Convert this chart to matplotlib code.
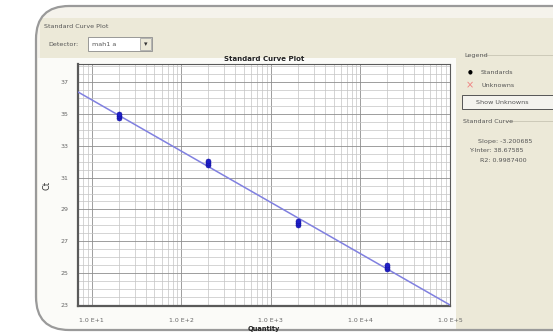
import numpy as np
import matplotlib.pyplot as plt
from matplotlib.patches import FancyBboxPatch, Rectangle
from matplotlib.ticker import FixedLocator, LogLocator, NullFormatter

# standards (quantity) and replicate Ct values
quantity = [20, 200, 2000, 20000]
ct_reps = [
    [34.74, 34.86, 34.98],
    [31.80, 31.92, 32.04],
    [28.03, 28.15, 28.27],
    [25.27, 25.39, 25.51],
]
y_ticks = [23, 25, 27, 29, 31, 33, 35, 37]
x_ticks = [1e1, 1e2, 1e3, 1e4, 1e5]
x_tick_labels = ['1.0 E+1', '1.0 E+2', '1.0 E+3', '1.0 E+4', '1.0 E+5']
curve_text = ['Slope: -3.200685', 'Y-Inter: 38.67585', 'R2: 0.9987400']

W, H = 553, 335
fig = plt.figure(figsize=(W / 100, H / 100), dpi=100)
fig.patch.set_facecolor('white')


def fx(x):
    return x / W


def fy(y):
    return 1 - y / H


# window frame (rounded), runs off the right edge of the picture
frame_kw = dict(boxstyle='round,pad=0,rounding_size=0.06', transform=fig.transFigure,
                mutation_aspect=W / H)
frame_bg = FancyBboxPatch((fx(36), fy(330)), fx(640 - 36), (330 - 6) / H,
                          facecolor='#f5f3ec', edgecolor='none', zorder=-5, **frame_kw)
fig.add_artist(frame_bg)


def box(x0, y0, x1, y1, zorder=-4, clip=True, **kw):
    r = Rectangle((fx(x0), fy(y1)), fx(x1 - x0), (y1 - y0) / H,
                  transform=fig.transFigure, zorder=zorder, **kw)
    fig.add_artist(r)
    if clip:
        r.set_clip_path(frame_bg)
    return r


box(40, 18, 553, 58, facecolor='#ece9d8', edgecolor='none')
box(38, 58, 456, 330, facecolor='#fbfbf8', edgecolor='none')
box(456, 40, 553, 330, facecolor='#ece9d8', edgecolor='none')

frame = FancyBboxPatch((fx(36), fy(330)), fx(640 - 36), (330 - 6) / H,
                       facecolor='none', edgecolor='#9a9a9a', lw=1.6, zorder=-3, **frame_kw)
fig.add_artist(frame)

fs = 4.6
fig.text(fx(44), fy(27), 'Standard Curve Plot', fontsize=fs, color='#555555', va='center')
fig.text(fx(48), fy(44), 'Detector:', fontsize=fs, color='#555555', va='center')
box(88, 37, 152, 51, facecolor='white', edgecolor='#8a8a8a', lw=0.6, zorder=1)
box(140, 38, 151, 50, facecolor='#ece9d8', edgecolor='#9a9a9a', lw=0.5, zorder=1)
fig.text(fx(92), fy(44), 'mah1 a', fontsize=fs, color='#555555', va='center')
fig.text(fx(145.5), fy(44), '\u25be', fontsize=5, color='#333333', va='center', ha='center')

# right side panel
fig.text(fx(464), fy(55), 'Legend', fontsize=fs, color='#555555', va='center')
fig.add_artist(plt.Line2D([fx(482), fx(553)], [fy(55), fy(55)], color='#c8c5b4', lw=0.6))
fig.text(fx(470), fy(72), '\u25cf', fontsize=4, color='black', va='center', ha='center')
fig.text(fx(481), fy(72), 'Standards', fontsize=fs, color='#555555', va='center')
fig.text(fx(470), fy(85), '\u00d7', fontsize=7, color='#f08080', va='center', ha='center')
fig.text(fx(481), fy(85), 'Unknowns', fontsize=fs, color='#555555', va='center')
box(462, 95, 556, 109, facecolor='#f4f3ee', edgecolor='#555555', lw=0.7, zorder=1, clip=False)
fig.text(fx(476), fy(102), 'Show Unknowns', fontsize=fs, color='#555555', va='center')
fig.text(fx(463), fy(121), 'Standard Curve', fontsize=fs, color='#555555', va='center')
fig.add_artist(plt.Line2D([fx(505), fx(553)], [fy(121), fy(121)], color='#c8c5b4', lw=0.6))
for i, t in enumerate(curve_text):
    fig.text(fx([478, 469, 480][i]), fy(141 + i * 10), t, fontsize=fs,
             color='#555555', va='center')

# plot area
ax = fig.add_axes([fx(78), fy(306), fx(450 - 78), (306 - 64) / H])
ax.set_facecolor('white')
ax.set_xscale('log')
ax.set_xlim(7.0, 1e5)
ax.set_ylim(22.94, 38.13)

ax.set_xticks(x_ticks)
ax.set_xticklabels(x_tick_labels)
ax.xaxis.set_minor_locator(LogLocator(base=10, subs=np.arange(2, 10)))
ax.xaxis.set_minor_formatter(NullFormatter())
ax.set_yticks(y_ticks)
ax.yaxis.set_minor_locator(FixedLocator(np.arange(23, 38.2, 0.5)))
ax.grid(True, which='major', color='#8e8e8e', lw=0.6)
ax.grid(True, which='minor', color='#c4c4c4', lw=0.5)
ax.tick_params(which='both', length=0, labelsize=4.5, labelcolor='#666666', pad=7)
ax.tick_params(axis='x', pad=9)
for s in ax.spines.values():
    s.set_color('#5a5a5a')
    s.set_linewidth(0.8)
ax.spines['left'].set_linewidth(1.6)
ax.spines['bottom'].set_linewidth(1.6)

# fitted standard curve through the replicates
lx = np.repeat(np.log10(quantity), 3)
ly = np.array(ct_reps).ravel()
slope, inter = np.polyfit(lx, ly, 1)
xs = np.logspace(np.log10(7.0), 5, 50)
ax.plot(xs, inter + slope * np.log10(xs), color='#8080e0', lw=1.1, zorder=3)
for q, reps in zip(quantity, ct_reps):
    ax.plot([q] * len(reps), reps, 'o', ms=3.6, color='#1f1fc8', mec='#1010a0', mew=0.4, zorder=4)

ax.set_title('Standard Curve Plot', fontsize=5, fontweight='bold', color='#222222', pad=2)
ax.set_xlabel('Quantity', fontsize=4.8, fontweight='bold', color='#222222', labelpad=2)
ax.set_ylabel('Ct', fontsize=6, color='#333333', labelpad=6)

fig.savefig('out.png', dpi=100)
